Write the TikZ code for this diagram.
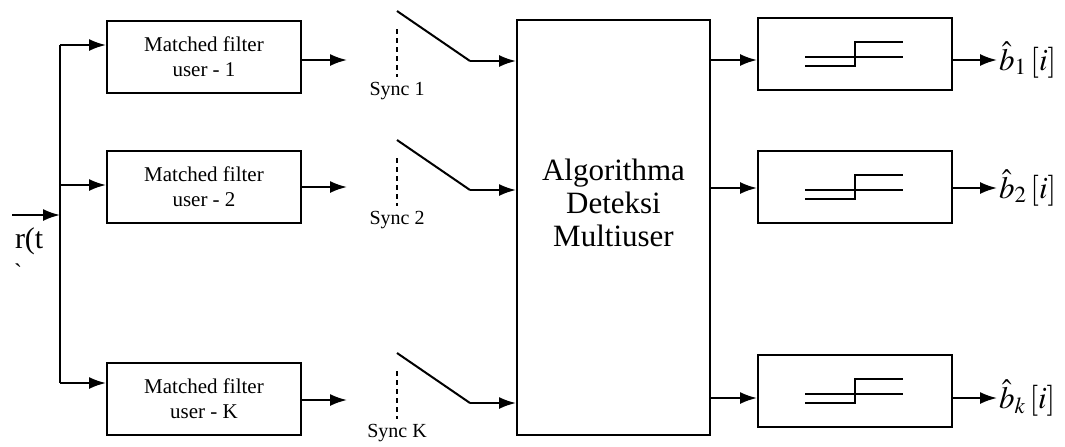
\documentclass[tikz,border=0pt]{standalone}
\usepackage{mathptmx}
\usepackage{fontspec}
\setmainfont{Liberation Serif}
\usetikzlibrary{arrows.meta}

\tikzset{
    block/.style={draw, minimum width=97pt, minimum height=36pt, inner sep=0pt,
        align=center, font=\fontsize{10.5}{12.5}\selectfont},
    bigblock/.style={draw, minimum width=96.5pt, minimum height=207.5pt, inner sep=0pt},
    synclabel/.style={font=\fontsize{10}{12}\selectfont, inner sep=1pt},
    outlabel/.style={right, inner sep=0.5pt, font=\fontsize{15.5}{17}\selectfont},
}

\begin{document}
\begin{tikzpicture}[x=0.5pt, y=-0.5pt, line width=1pt, >={Latex[length=8.5pt,width=6pt]}]
    \useasboundingbox (0,0) rectangle (1065,446);

    % matched filters
    \node[block] (mf1) at (204,57) {Matched filter\\user - 1};
    \node[block] (mf2) at (204,187) {Matched filter\\user - 2};
    \node[block] (mfK) at (204,398.5) {Matched filter\\user - K};

    % input and bus
    \coordinate (in) at (12,215);
    \coordinate (bus) at (60,215);
    \coordinate (bus1) at (60,45);
    \coordinate (bus2) at (60,185);
    \coordinate (busK) at (60,383);
    \draw[->] (in) -- (bus);
    \draw (bus1) -- (busK);
    \draw[->] (bus1) -- (mf1.west |- bus1);
    \draw[->] (bus2) -- (mf2.west |- bus2);
    \draw[->] (busK) -- (mfK.west |- busK);
    \node[font=\fontsize{15}{16}\selectfont, inner sep=0pt, anchor=base west] (rt) at (14,248) {r(t};
    \node[font=\fontsize{12}{12}\selectfont, inner sep=0pt] (rtb) at (18,272) {\textasciigrave};

    % detector
    \node[bigblock] (alg) at (613.5,227.5) {};
    \node[align=center, font=\fontsize{15.5}{16.5}\selectfont] (algtxt) at (613.5,203)
        {Algorithma\\Deteksi\\Multiuser};

    % outputs of the filters
    \coordinate (mf1out) at (347,60);
    \coordinate (mf2out) at (347,187);
    \coordinate (mfKout) at (347,400);
    \draw[->] (mf1.east |- mf1out) -- (mf1out);
    \draw[->] (mf2.east |- mf2out) -- (mf2out);
    \draw[->] (mfK.east |- mfKout) -- (mfKout);

    % sampling switches
    \foreach \n/\y in {1/61, 2/190, K/403}{
        \coordinate (sw\n) at (470,\y);
        \coordinate (swtop\n) at (397,\y-50);
        \draw (swtop\n) -- (sw\n);
        \draw[->] (sw\n) -- (alg.west |- sw\n);
        \draw[dash pattern=on 2.5pt off 2pt] (397,\y-32) -- (397,\y+16);
        \node[synclabel] (sync\n) at (397,\y+30) {Sync \n};
    }

    % decision devices
    \node[block] (th1) at (855,54) {};
    \node[block] (th2) at (855,187) {};
    \node[block] (thK) at (855,391) {};
    \foreach \n in {1,2,K}{
        \draw[line width=0.9pt, shift={(th\n.center)}] (-50,12) -- (0,12) -- (0,-12) -- (48,-12);
        \draw[line width=0.9pt, shift={(th\n.center)}] (-50,3) -- (48,3);
    }

    \foreach \n/\y/\s in {1/60/1, 2/188/2, K/398/k}{
        \coordinate (alg\n) at (710,\y);
        \draw[->] (alg\n) -- (th\n.west |- alg\n);
        \coordinate (out\n) at (997,\y);
        \draw[->] (th\n.east |- out\n) -- (out\n);
        \node[outlabel] (b\n) at (out\n) {$\hat{b}_{\s}\,[i]$};
    }

\end{tikzpicture}
\end{document}
